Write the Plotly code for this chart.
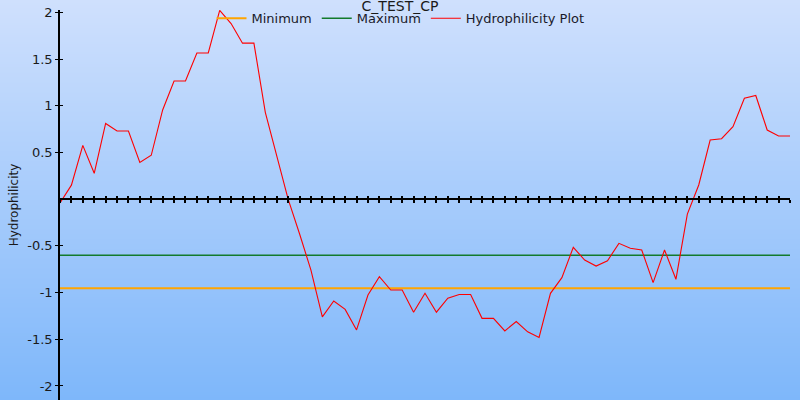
import base64, struct, zlib
import plotly.graph_objects as go

# ---------------- data ----------------
title_text = "C_TEST_CP"
y_title = "Hydrophilicity"
hydrophilicity = [
    -0.04, 0.15, 0.576, 0.277, 0.81, 0.73, 0.73, 0.394, 0.47, 0.955,
    1.265, 1.265, 1.565, 1.565, 2.02, 1.88, 1.67, 1.67, 0.93, 0.45,
    0.0, -0.37, -0.76, -1.26, -1.09, -1.18, -1.40, -1.026, -0.83, -0.973,
    -0.973, -1.21, -1.008, -1.21, -1.06, -1.02, -1.02, -1.276, -1.276, -1.41,
    -1.31, -1.42, -1.48, -1.008, -0.84, -0.516, -0.652, -0.716, -0.659, -0.473,
    -0.526, -0.544, -0.894, -0.544, -0.858, -0.16, 0.152, 0.633, 0.647, 0.776,
    1.08, 1.11, 0.74, 0.676, 0.676,
]
positions = list(range(len(hydrophilicity)))
minimum_value = -0.955
maximum_value = -0.60
ytick_vals = [-2, -1.5, -1, -0.5, 0.5, 1, 1.5, 2]
ytick_text = ["-2", "-1.5", "-1", "-0.5", "0.5", "1", "1.5", "2"]

# ---------------- layout geometry ----------------
W, H = 800, 400
ML, MR, MT, MB = 60, 10, 10, 0
PW, PH = W - ML - MR, H - MT - MB
Y_RANGE = [-2.15, 2.025]
zero_pos = (0 - Y_RANGE[0]) / (Y_RANGE[1] - Y_RANGE[0])

# ---------------- gradient background as PNG ----------------
def gradient_png(top, bottom, h):
    rows = b""
    for i in range(h):
        t = i / (h - 1)
        c = [round(top[k] + (bottom[k] - top[k]) * t) for k in range(3)]
        rows += b"\x00" + bytes(c)
    def chunk(tag, data):
        return struct.pack(">I", len(data)) + tag + data + struct.pack(">I", zlib.crc32(tag + data) & 0xffffffff)
    png = b"\x89PNG\r\n\x1a\n"
    png += chunk(b"IHDR", struct.pack(">IIBBBBB", 1, h, 8, 2, 0, 0, 0))
    png += chunk(b"IDAT", zlib.compress(rows))
    png += chunk(b"IEND", b"")
    return "data:image/png;base64," + base64.b64encode(png).decode()

bg = gradient_png((207, 224, 253), (126, 183, 250), H)

FONT = "DejaVu Sans"
fig = go.Figure()
x_end = positions[-1]
fig.add_trace(go.Scatter(x=[0, x_end], y=[minimum_value, minimum_value], mode="lines",
                         name="Minimum", line=dict(color="#ffa500", width=2)))
fig.add_trace(go.Scatter(x=[0, x_end], y=[maximum_value, maximum_value], mode="lines",
                         name="Maximum", line=dict(color="#137a2c", width=1.6)))
fig.add_trace(go.Scatter(x=positions, y=hydrophilicity, mode="lines",
                         name="Hydrophilicity Plot", line=dict(color="#ff0000", width=1.1)))
# invisible trace on overlay axes (for cross ticks)
fig.add_trace(go.Scatter(x=[0, x_end], y=[0, 0], xaxis="x2", yaxis="y2", mode="lines",
                         line=dict(width=0), showlegend=False, hoverinfo="skip"))

fig.update_layout(
    width=W, height=H,
    margin=dict(l=ML, r=MR, t=MT, b=MB, autoexpand=False),
    paper_bgcolor="rgba(0,0,0,0)", plot_bgcolor="rgba(0,0,0,0)",
    images=[dict(source=bg, xref="paper", yref="paper",
                 x=-ML / PW, y=1 + MT / PH, sizex=W / PW, sizey=H / PH,
                 sizing="stretch", layer="below", xanchor="left", yanchor="top")],
    font=dict(family=FONT, size=13, color="#1a1a1a"),
    title=dict(text=title_text, x=0.5, xref="container", xanchor="center",
               y=1 - 6.5 / H, yref="container", yanchor="middle", automargin=False,
               font=dict(family=FONT, size=14, color="#1a1a1a")),
    showlegend=True,
    legend=dict(orientation="h", x=(400.5 - ML) / PW, xanchor="center", y=1.017, yanchor="top",
                bgcolor="rgba(0,0,0,0)", font=dict(family=FONT, size=13, color="#1a1a2a")),
    xaxis=dict(range=[0, x_end], anchor="free", position=zero_pos, showgrid=False, zeroline=False,
               showline=True, linecolor="black", linewidth=1.5, automargin=False,
               tickmode="linear", tick0=0, dtick=1, ticks="outside", ticklen=3,
               tickwidth=1.5, tickcolor="black", showticklabels=False),
    xaxis2=dict(range=[0, x_end], overlaying="x", anchor="free", position=zero_pos,
                showgrid=False, zeroline=False, showline=False, automargin=False,
                tickmode="linear", tick0=0, dtick=1, ticks="inside", ticklen=3,
                tickwidth=1.5, tickcolor="black", showticklabels=False),
    yaxis=dict(range=Y_RANGE, showgrid=False, zeroline=False, showline=True, automargin=False,
               linecolor="black", linewidth=1.5, tickmode="array", tickvals=ytick_vals,
               ticktext=ytick_text, ticks="outside", ticklen=3, tickwidth=1.2,
               tickcolor="black", tickfont=dict(family=FONT, size=13, color="#1a1a1a"),
               title=dict(text=y_title, font=dict(family=FONT, size=12, color="#1a1a1a"),
                          standoff=6)),
    yaxis2=dict(range=Y_RANGE, overlaying="y", anchor="x", side="left", showgrid=False,
                zeroline=False, showline=False, automargin=False, tickmode="array",
                tickvals=ytick_vals, ticks="inside", ticklen=3, tickwidth=1.2,
                tickcolor="black", showticklabels=False),
)

fig.write_html("out.html", config={"displayModeBar": False},
               post_script="document.body.style.margin='0';document.body.style.padding='0';")
